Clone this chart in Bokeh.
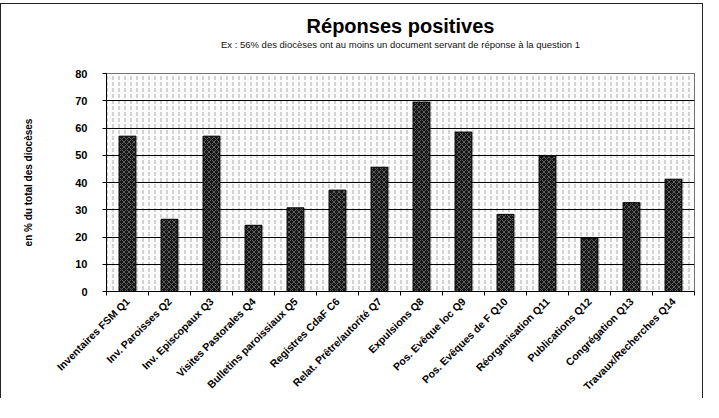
import math
from bokeh.plotting import figure
from bokeh.models import Title, FixedTicker, Range1d
from bokeh.embed import file_html
from bokeh.resources import INLINE

categories = [
    "Inventaires FSM Q1", "Inv. Paroisses Q2", "Inv. Episcopaux Q3",
    "Visites Pastorales Q4", "Bulletins paroissiaux Q5", "Registres CdaF C6",
    "Relat. Prêtre/autorité Q7", "Expulsions Q8", "Pos. Evêque loc Q9",
    "Pos. Evêques de F Q10", "Réorganisation Q11", "Publications Q12",
    "Congrégation Q13", "Travaux/Recherches Q14",
]
values = [57, 26.5, 57, 24.3, 30.7, 37.2, 45.6, 69.5, 58.5, 28.3, 49.7, 19.6, 32.6, 41.2]
y_ticks = [0, 10, 20, 30, 40, 50, 60, 70, 80]

FONT = "Liberation Sans"
n = len(categories)
xs = [i + 1 for i in range(n)]

p = figure(width=703, height=395, output_backend="svg", toolbar_location=None,
           x_range=Range1d(0.5, n + 0.5), y_range=Range1d(0, 80),
           min_border_left=105, min_border_right=10, min_border_top=10,
           min_border_bottom=103)
p.margin = (3, 0, 0, 0)
p.styles = {"border-left": "1px solid #222", "border-top": "1px solid #222",
            "border-right": "1px solid #222"}

p.add_layout(Title(text=" ", text_font_size="20px", standoff=0), "above")
p.add_layout(Title(text="Ex : 56% des diocèses ont au moins un document servant de réponse à la question 1",
                   align="center", text_font=FONT, text_font_size="9.5px",
                   text_font_style="normal", text_color="#111", standoff=0), "above")
p.add_layout(Title(text="Réponses positives", align="center", text_font=FONT,
                   text_font_size="20px", text_font_style="bold", text_color="#000",
                   standoff=0), "above")
p.add_layout(Title(text=" ", text_font_size="6px", standoff=0), "above")

p.background_fill_color = "#fbfbfb"
p.border_fill_color = "white"
p.outline_line_color = "#444"

# speckled background texture
p.quad(left=[0.5], right=[n + 0.5], bottom=[0], top=[80], fill_color="#fbfbfb",
       line_color=None, hatch_pattern=":", hatch_color="#8a8a8a",
       hatch_scale=6, hatch_weight=0.8, hatch_alpha=0.9, level="image")

p.vbar(x=xs, top=values, width=0.4, fill_color="#161616", line_color="#000",
       line_width=1, hatch_pattern="x", hatch_color="#6e6e6e",
       hatch_scale=5, hatch_weight=0.8)

p.xgrid.grid_line_color = None
p.ygrid.ticker = FixedTicker(ticks=y_ticks)
p.ygrid.grid_line_color = "#000"
p.ygrid.grid_line_width = 1

p.yaxis.ticker = FixedTicker(ticks=y_ticks)
p.yaxis.axis_label = "en % du total des diocèses"
p.yaxis.axis_label_text_font = FONT
p.yaxis.axis_label_text_font_size = "10px"
p.yaxis.axis_label_text_font_style = "bold"
p.yaxis.axis_label_text_color = "#000"
p.yaxis.axis_label_standoff = 38
p.yaxis.major_label_text_font = FONT
p.yaxis.major_label_text_font_size = "11px"
p.yaxis.major_label_text_font_style = "bold"
p.yaxis.major_label_text_color = "#000"
p.yaxis.major_label_standoff = 15
p.yaxis.major_tick_out = 4
p.yaxis.major_tick_in = 0
p.yaxis.minor_tick_out = 0
p.yaxis.axis_line_color = "#000"
p.yaxis.major_tick_line_color = "#000"

p.xaxis.ticker = FixedTicker(ticks=xs, minor_ticks=[i + 0.5 for i in range(n + 1)])
p.xaxis.major_label_overrides = {x: c for x, c in zip(xs, categories)}
p.xaxis.major_label_orientation = math.pi / 4
p.xaxis.major_label_text_font = FONT
p.xaxis.major_label_text_font_size = "10.5px"
p.xaxis.major_label_text_font_style = "bold"
p.xaxis.major_label_text_color = "#000"
p.xaxis.major_tick_out = 0
p.xaxis.major_tick_in = 0
p.xaxis.minor_tick_out = 4
p.xaxis.minor_tick_in = 0
p.xaxis.minor_tick_line_color = "#000"
p.xaxis.major_label_standoff = 4
p.xaxis.axis_line_color = "#000"

open("out.html", "w").write(file_html(p, INLINE))
